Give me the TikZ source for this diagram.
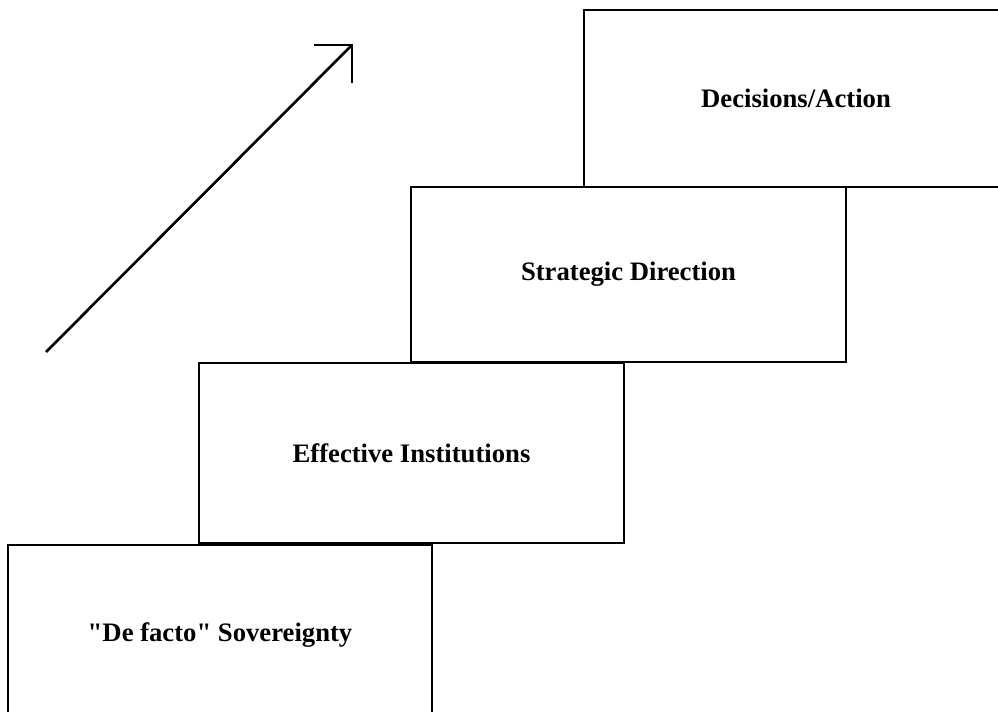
\documentclass[tikz,border=0pt]{standalone}
\usepackage{fontspec}
\setmainfont{Liberation Serif}[Ligatures=TeXOff]
\begin{document}
\begin{tikzpicture}[x=0.75pt,y=-0.75pt,
  stepbox/.style={draw=black,line width=1.8pt,fill=white,inner sep=0pt,outer sep=0pt,
    font=\fontsize{20pt}{24pt}\selectfont\bfseries,align=center}]
\useasboundingbox (0,0) rectangle (998,712);
\node[stepbox,minimum width=318pt,minimum height=135pt] (s1) at (220,635) {"De facto" Sovereignty};
\node[stepbox,minimum width=318.75pt,minimum height=135pt] (s2) at (411.5,453) {Effective Institutions};
\node[stepbox,minimum width=326.25pt,minimum height=131.25pt] (s3) at (628.5,274.5) {Strategic Direction};
\node[stepbox,minimum width=318pt,minimum height=132.75pt] (s4) at (796,98.5) {Decisions/Action};
\coordinate (a0) at (46,352);
\coordinate (a1) at (352,45);
\draw[line width=2pt] (a0) -- (a1);
\draw[line width=2pt,line join=miter] (a1) ++(-38,0) -- (a1) -- ++(0,38);
\end{tikzpicture}
\end{document}
